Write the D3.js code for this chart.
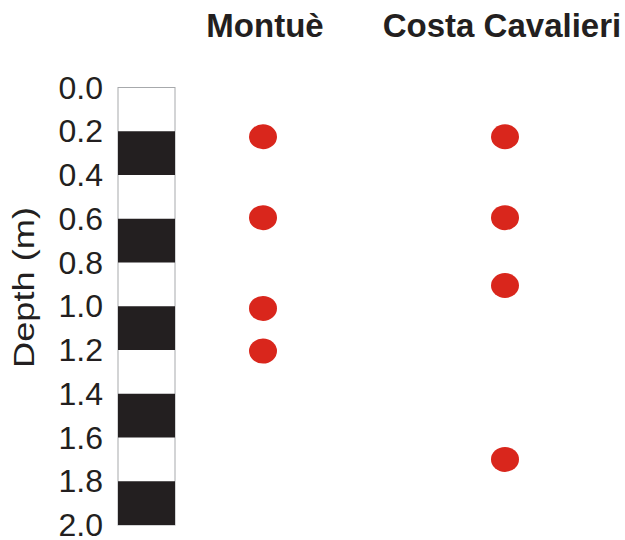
<!DOCTYPE html>
<html>
<head>
<meta charset="utf-8">
<script src="https://cdn.jsdelivr.net/npm/d3@7/dist/d3.min.js"></script>
<style>
  html, body { margin: 0; padding: 0; background: #fff; }
  svg { display: block; }
  text { font-family: "Liberation Sans", Arial, sans-serif; fill: #231f20; }
</style>
</head>
<body>
<svg id="chart" width="625" height="540"></svg>
<script>
// Sampling sites and sample depths (m)
const sites = ["Montuè", "Costa Cavalieri"];
const montueDepths = [0.225, 0.595, 1.01, 1.205];
const costaCavalieriDepths = [0.225, 0.595, 0.905, 1.70];
const depthTicks = [0.0, 0.2, 0.4, 0.6, 0.8, 1.0, 1.2, 1.4, 1.6, 1.8, 2.0];
// Alternating soil-column bands shown in black
const darkBands = [[0.2, 0.4], [0.6, 0.8], [1.0, 1.2], [1.4, 1.6], [1.8, 2.0]];

const samples = [
  ...montueDepths.map(d => ({ site: sites[0], depth: d })),
  ...costaCavalieriDepths.map(d => ({ site: sites[1], depth: d }))
];

const svg = d3.select("#chart");

const y = d3.scaleLinear().domain([0, 2]).range([87.5, 525]);
const x = d3.scalePoint().domain(sites).range([263, 505]);

const colLeft = 118, colWidth = 57;

// Depth axis (labels only)
const axis = d3.axisLeft(y)
  .tickValues(depthTicks)
  .tickFormat(d3.format(".1f"))
  .tickSize(0)
  .tickPadding(15);

const gAxis = svg.append("g")
  .attr("transform", `translate(${colLeft},0)`)
  .call(axis);
gAxis.select(".domain").remove();
gAxis.selectAll("text")
  .attr("font-family", "'Liberation Sans', Arial, sans-serif")
  .attr("font-size", 32)
  .attr("fill", "#231f20")
  .attr("dy", "0.33em");

// Axis title
svg.append("text")
  .attr("transform", `translate(34,287.5) rotate(-90)`)
  .attr("text-anchor", "middle")
  .attr("font-size", 29)
  .attr("textLength", 161)
  .attr("lengthAdjust", "spacingAndGlyphs")
  .text("Depth (m)");

// Soil column
svg.append("rect")
  .attr("x", colLeft)
  .attr("y", y(0))
  .attr("width", colWidth)
  .attr("height", y(2) - y(0))
  .attr("fill", "#fff")
  .attr("stroke", "#a7a9ac")
  .attr("stroke-width", 1);

svg.selectAll("rect.band")
  .data(darkBands)
  .join("rect")
  .attr("class", "band")
  .attr("x", colLeft)
  .attr("y", d => y(d[0]))
  .attr("width", colWidth)
  .attr("height", d => y(d[1]) - y(d[0]))
  .attr("fill", "#231f20");

// Site titles
svg.selectAll("text.site")
  .data(sites)
  .join("text")
  .attr("class", "site")
  .attr("x", (d, i) => x(d) + (i === 0 ? 2 : -3))
  .attr("y", 37)
  .attr("text-anchor", "middle")
  .attr("font-size", 33)
  .attr("font-weight", "bold")
  .text(d => d);

// Sample points
svg.selectAll("ellipse.sample")
  .data(samples)
  .join("ellipse")
  .attr("class", "sample")
  .attr("cx", d => x(d.site))
  .attr("cy", d => y(d.depth))
  .attr("rx", 14)
  .attr("ry", 12.5)
  .attr("fill", "#d9261c");
</script>
</body>
</html>
